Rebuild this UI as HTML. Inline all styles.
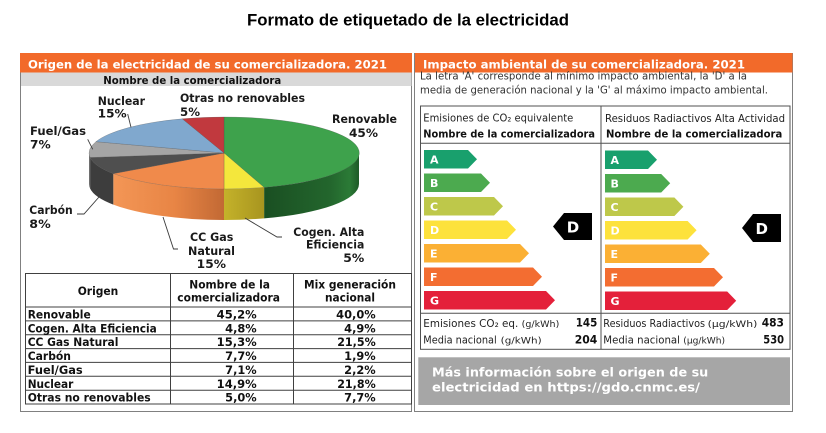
<!DOCTYPE html>
<html><head><meta charset="utf-8"><style>
html,body{margin:0;padding:0;background:#fff;}
svg{display:block;}
</style></head><body>
<svg width="826" height="433" viewBox="0 0 826 433" xmlns="http://www.w3.org/2000/svg">
<defs>
<linearGradient id="gS" gradientUnits="userSpaceOnUse" x1="264" y1="0" x2="359" y2="0">
<stop offset="0" stop-color="#1a4f22"/><stop offset="0.7" stop-color="#23662d"/><stop offset="0.9" stop-color="#2b7a36"/><stop offset="1" stop-color="#1e5a27"/></linearGradient>
<linearGradient id="yS" gradientUnits="userSpaceOnUse" x1="224" y1="0" x2="264" y2="0">
<stop offset="0" stop-color="#c4b22a"/><stop offset="1" stop-color="#a8951f"/></linearGradient>
<linearGradient id="oS" gradientUnits="userSpaceOnUse" x1="113" y1="0" x2="224" y2="0">
<stop offset="0" stop-color="#f39656"/><stop offset="0.55" stop-color="#e88545"/><stop offset="1" stop-color="#c26934"/></linearGradient>
</defs>
<rect width="826" height="433" fill="#fff"/>

<!-- Title -->
<text x="247" y="25.5" font-family="Liberation Sans, Arial, sans-serif" font-weight="bold" font-size="17" fill="#000" textLength="322" lengthAdjust="spacingAndGlyphs">Formato de etiquetado de la electricidad</text>

<!-- LEFT PANEL -->
<rect x="20.5" y="53.5" width="391" height="358" fill="#fff" stroke="#808080"/>
<rect x="20" y="53" width="392" height="19.5" fill="#f26a2a"/>
<rect x="21" y="72.5" width="390.5" height="13.5" fill="#d9d9d9"/>
<g font-family="DejaVu Sans, Verdana, sans-serif" font-weight="bold">
<text x="28" y="68.3" font-size="11.6" fill="#fff" textLength="359" lengthAdjust="spacingAndGlyphs">Origen de la electricidad de su comercializadora. 2021</text>
<text x="103.3" y="84" font-size="11" fill="#111" textLength="178" lengthAdjust="spacingAndGlyphs">Nombre de la comercializadora</text>
</g>

<!-- Pie sides -->
<path d="M359,153 A135,36 0 0 1 264.1,187.4 L264.1,218.4 A135,36 0 0 0 359,184 Z" fill="url(#gS)"/>
<path d="M264.1,187.4 A135,36 0 0 1 224,189 L224,220 A135,36 0 0 0 264.1,218.4 Z" fill="url(#yS)"/>
<path d="M224,189 A135,36 0 0 1 113.3,173.6 L113.3,204.6 A135,36 0 0 0 224,220 Z" fill="url(#oS)"/>
<path d="M113.3,173.6 A135,36 0 0 1 90.1,157.5 L90.1,188.5 A135,36 0 0 0 113.3,204.6 Z" fill="#3d3d3d"/>
<path d="M90.1,157.5 A135,36 0 0 1 89,153 L89,184 A135,36 0 0 0 90.1,188.5 Z" fill="#6e6e6e"/>
<!-- Pie tops -->
<g stroke="#4a4a4a" stroke-width="0.4" stroke-opacity="0.6">
<path d="M224,153 L224,117 A135,36 0 0 1 264.1,187.4 Z" fill="#3ea24c"/>
<path d="M224,153 L264.1,187.4 A135,36 0 0 1 224,189 Z" fill="#f4e73c"/>
<path d="M224,153 L224,189 A135,36 0 0 1 113.3,173.6 Z" fill="#f08a4b"/>
<path d="M224,153 L113.3,173.6 A135,36 0 0 1 90.1,157.5 Z" fill="#4f4f4f"/>
<path d="M224,153 L90.1,157.5 A135,36 0 0 1 95.9,141.7 Z" fill="#a5a5a5"/>
<path d="M224,153 L95.9,141.7 A135,36 0 0 1 182.3,118.8 Z" fill="#80a8ce"/>
<path d="M224,153 L182.3,118.8 A135,36 0 0 1 224,117 Z" fill="#c1393e"/>
</g>

<!-- Leader lines -->
<g stroke="#3a3a3a" stroke-width="0.9" fill="none">
<polyline points="127.7,114 131,127.3"/>
<polyline points="87.7,139.3 92.7,149.3"/>
<polyline points="77,214 84,214 99,197"/>
<polyline points="178,249 173.5,249 163,217"/>
<polyline points="245,218 277,237 282,237"/>
</g>

<!-- Pie labels -->
<g font-family="DejaVu Sans, Verdana, sans-serif" font-weight="bold" font-size="11.6" fill="#1a1a1a">
<text x="97.7" y="105" textLength="47.3" lengthAdjust="spacingAndGlyphs">Nuclear</text>
<text x="97.7" y="117.5" textLength="29" lengthAdjust="spacingAndGlyphs">15%</text>
<text x="180" y="102" textLength="125" lengthAdjust="spacingAndGlyphs">Otras no renovables</text>
<text x="180" y="116" textLength="20" lengthAdjust="spacingAndGlyphs">5%</text>
<text x="332" y="123" textLength="65" lengthAdjust="spacingAndGlyphs">Renovable</text>
<text x="349" y="137" textLength="29" lengthAdjust="spacingAndGlyphs">45%</text>
<text x="30" y="135" textLength="56" lengthAdjust="spacingAndGlyphs">Fuel/Gas</text>
<text x="30" y="148.5" textLength="20.7" lengthAdjust="spacingAndGlyphs">7%</text>
<text x="29.3" y="214" textLength="43.4" lengthAdjust="spacingAndGlyphs">Carbón</text>
<text x="29.3" y="228" textLength="21.4" lengthAdjust="spacingAndGlyphs">8%</text>
<text x="190" y="241" textLength="43.3" lengthAdjust="spacingAndGlyphs">CC Gas</text>
<text x="188" y="255" textLength="47" lengthAdjust="spacingAndGlyphs">Natural</text>
<text x="196.7" y="268" textLength="29.3" lengthAdjust="spacingAndGlyphs">15%</text>
<text x="293.3" y="236" textLength="71" lengthAdjust="spacingAndGlyphs">Cogen. Alta</text>
<text x="306" y="248.5" textLength="58.3" lengthAdjust="spacingAndGlyphs">Eficiencia</text>
<text x="343.3" y="262" textLength="21" lengthAdjust="spacingAndGlyphs">5%</text>
</g>

<!-- Left table -->
<g stroke="#404040" stroke-width="1" fill="none">
<rect x="25.5" y="273.5" width="386" height="130.5"/>
<line x1="170.5" y1="273.5" x2="170.5" y2="404"/>
<line x1="293.5" y1="273.5" x2="293.5" y2="404"/>
<line x1="25.5" y1="307" x2="411.5" y2="307"/>
<line x1="25.5" y1="320.9" x2="411.5" y2="320.9"/>
<line x1="25.5" y1="334.7" x2="411.5" y2="334.7"/>
<line x1="25.5" y1="348.6" x2="411.5" y2="348.6"/>
<line x1="25.5" y1="362.4" x2="411.5" y2="362.4"/>
<line x1="25.5" y1="376.3" x2="411.5" y2="376.3"/>
<line x1="25.5" y1="390.2" x2="411.5" y2="390.2"/>
</g>
<g font-family="DejaVu Sans, Verdana, sans-serif" font-weight="bold" font-size="11.2" fill="#111">
<text x="77.7" y="295" textLength="40.6" lengthAdjust="spacingAndGlyphs">Origen</text>
<text x="189.3" y="288.5" textLength="80.7" lengthAdjust="spacingAndGlyphs">Nombre de la</text>
<text x="177.3" y="301.5" textLength="102.7" lengthAdjust="spacingAndGlyphs">comercializadora</text>
<text x="304" y="288.5" textLength="92" lengthAdjust="spacingAndGlyphs">Mix generación</text>
<text x="325" y="301.5" textLength="50" lengthAdjust="spacingAndGlyphs">nacional</text>

<text x="27.7" y="318.5" textLength="63" lengthAdjust="spacingAndGlyphs">Renovable</text>
<text x="27.7" y="332.4" textLength="129" lengthAdjust="spacingAndGlyphs">Cogen. Alta Eficiencia</text>
<text x="27.7" y="346.2" textLength="90.7" lengthAdjust="spacingAndGlyphs">CC Gas Natural</text>
<text x="27.7" y="360.1" textLength="43.3" lengthAdjust="spacingAndGlyphs">Carbón</text>
<text x="27.7" y="373.9" textLength="55" lengthAdjust="spacingAndGlyphs">Fuel/Gas</text>
<text x="27.7" y="387.8" textLength="45.7" lengthAdjust="spacingAndGlyphs">Nuclear</text>
<text x="27.7" y="401.7" textLength="123" lengthAdjust="spacingAndGlyphs">Otras no renovables</text>

<text x="216.7" y="318.5" textLength="40" lengthAdjust="spacingAndGlyphs">45,2%</text>
<text x="225.2" y="332.4" textLength="31.5" lengthAdjust="spacingAndGlyphs">4,8%</text>
<text x="216.7" y="346.2" textLength="40" lengthAdjust="spacingAndGlyphs">15,3%</text>
<text x="225.2" y="360.1" textLength="31.5" lengthAdjust="spacingAndGlyphs">7,7%</text>
<text x="225.2" y="373.9" textLength="31.5" lengthAdjust="spacingAndGlyphs">7,1%</text>
<text x="216.7" y="387.8" textLength="40" lengthAdjust="spacingAndGlyphs">14,9%</text>
<text x="225.2" y="401.7" textLength="31.5" lengthAdjust="spacingAndGlyphs">5,0%</text>

<text x="336.2" y="318.5" textLength="39.5" lengthAdjust="spacingAndGlyphs">40,0%</text>
<text x="344.2" y="332.4" textLength="31.5" lengthAdjust="spacingAndGlyphs">4,9%</text>
<text x="337.2" y="346.2" textLength="38.5" lengthAdjust="spacingAndGlyphs">21,5%</text>
<text x="344.2" y="360.1" textLength="31.5" lengthAdjust="spacingAndGlyphs">1,9%</text>
<text x="344.2" y="373.9" textLength="31.5" lengthAdjust="spacingAndGlyphs">2,2%</text>
<text x="337.2" y="387.8" textLength="38.5" lengthAdjust="spacingAndGlyphs">21,8%</text>
<text x="344.2" y="401.7" textLength="31.5" lengthAdjust="spacingAndGlyphs">7,7%</text>
</g>

<!-- RIGHT PANEL -->
<rect x="414.5" y="53.5" width="378" height="358" fill="#fff" stroke="#808080"/>
<rect x="415" y="53" width="377.5" height="19.5" fill="#f26a2a"/>
<g font-family="DejaVu Sans, Verdana, sans-serif">
<text x="423" y="68.3" font-size="11.6" font-weight="bold" fill="#fff" textLength="322" lengthAdjust="spacingAndGlyphs">Impacto ambiental de su comercializadora. 2021</text>
<text x="420" y="79.5" font-size="10.5" fill="#333" textLength="327" lengthAdjust="spacingAndGlyphs">La letra 'A' corresponde al mínimo impacto ambiental, la 'D' a la</text>
<text x="420" y="93.5" font-size="10.5" fill="#333" textLength="348" lengthAdjust="spacingAndGlyphs">media de generación nacional y la 'G' al máximo impacto ambiental.</text>
</g>

<g stroke="#505050" stroke-width="1" fill="none">
<rect x="420.5" y="106" width="369.5" height="243.3"/>
<line x1="601" y1="106" x2="601" y2="349.3"/>
<line x1="420.5" y1="143.3" x2="790" y2="143.3"/>
<line x1="420.5" y1="313.3" x2="790" y2="313.3"/>
</g>

<g font-family="DejaVu Sans, Verdana, sans-serif" fill="#222">
<text x="423.3" y="121.7" font-size="10.5" textLength="150" lengthAdjust="spacingAndGlyphs">Emisiones de CO₂ equivalente</text>
<text x="423.3" y="137.3" font-size="10.6" font-weight="bold" fill="#111" textLength="171.7" lengthAdjust="spacingAndGlyphs">Nombre de la comercializadora</text>
<text x="605" y="122" font-size="10.5" textLength="180" lengthAdjust="spacingAndGlyphs">Residuos Radiactivos Alta Actividad</text>
<text x="606" y="137.5" font-size="10.6" font-weight="bold" fill="#111" textLength="176.3" lengthAdjust="spacingAndGlyphs">Nombre de la comercializadora</text>

<text x="423.3" y="327" font-size="10.5" textLength="95" lengthAdjust="spacingAndGlyphs">Emisiones CO₂ eq.</text>
<text x="521.7" y="327" font-size="9" textLength="37.6" lengthAdjust="spacingAndGlyphs">(g/kWh)</text>
<text x="575.7" y="326.7" font-size="11.5" font-weight="bold" fill="#111" textLength="21.6" lengthAdjust="spacingAndGlyphs">145</text>
<text x="423.3" y="343.3" font-size="10.5" textLength="73.4" lengthAdjust="spacingAndGlyphs">Media nacional</text>
<text x="500.7" y="343.3" font-size="9" textLength="41" lengthAdjust="spacingAndGlyphs">(g/kWh)</text>
<text x="574.7" y="343.3" font-size="11.5" font-weight="bold" fill="#111" textLength="22.6" lengthAdjust="spacingAndGlyphs">204</text>

<text x="603.3" y="327" font-size="10.5" textLength="101.7" lengthAdjust="spacingAndGlyphs">Residuos Radiactivos</text>
<text x="707.7" y="327" font-size="9" textLength="49.6" lengthAdjust="spacingAndGlyphs">(μg/kWh)</text>
<text x="761.7" y="326.7" font-size="11.5" font-weight="bold" fill="#111" textLength="22.3" lengthAdjust="spacingAndGlyphs">483</text>
<text x="603.3" y="343.3" font-size="10.5" textLength="76.7" lengthAdjust="spacingAndGlyphs">Media nacional</text>
<text x="683.3" y="343.3" font-size="9" textLength="41.7" lengthAdjust="spacingAndGlyphs">(μg/kWh)</text>
<text x="763.3" y="343.3" font-size="11.5" font-weight="bold" fill="#111" textLength="20.7" lengthAdjust="spacingAndGlyphs">530</text>
</g>

<!-- Left energy bars -->
<g>
<polygon points="424,150 468,150 477,159.25 468,168.5 424,168.5" fill="#19a06d"/>
<polygon points="424,173.5 481,173.5 490,182.75 481,192 424,192" fill="#4caa4f"/>
<polygon points="424,197 494,197 503,206.25 494,215.5 424,215.5" fill="#bec84a"/>
<polygon points="424,220.5 507,220.5 516,229.75 507,239 424,239" fill="#fde23c"/>
<polygon points="424,244 520,244 529,253.25 520,262.5 424,262.5" fill="#fbb034"/>
<polygon points="424,267.5 533,267.5 542,276.75 533,286 424,286" fill="#f36d31"/>
<polygon points="424,291 546,291 555,300.25 546,309.5 424,309.5" fill="#e4203a"/>
<polygon points="553,226.5 564,213 592,213 592,240 564,240" fill="#000"/>
</g>
<!-- Right energy bars -->
<g>
<polygon points="605,150.5 648,150.5 657,159.75 648,169 605,169" fill="#19a06d"/>
<polygon points="605,174 661.2,174 670.2,183.25 661.2,192.5 605,192.5" fill="#4caa4f"/>
<polygon points="605,197.5 674.4,197.5 683.4,206.75 674.4,216 605,216" fill="#bec84a"/>
<polygon points="605,221 687.6,221 696.6,230.25 687.6,239.5 605,239.5" fill="#fde23c"/>
<polygon points="605,244.5 700.8,244.5 709.8,253.75 700.8,263 605,263" fill="#fbb034"/>
<polygon points="605,268 714,268 723,277.25 714,286.5 605,286.5" fill="#f36d31"/>
<polygon points="605,291.5 727.2,291.5 736.2,300.75 727.2,310 605,310" fill="#e4203a"/>
<polygon points="742,228 753,214 781,214 781,242 753,242" fill="#000"/>
</g>
<g font-family="DejaVu Sans, Verdana, sans-serif" font-weight="bold" font-size="11" fill="#fff">
<text x="430" y="163.3">A</text>
<text x="430" y="186.8">B</text>
<text x="430" y="210.3">C</text>
<text x="430" y="233.8">D</text>
<text x="430" y="257.3">E</text>
<text x="430" y="280.8">F</text>
<text x="430" y="304.3">G</text>
<text x="610.5" y="163.8">A</text>
<text x="610.5" y="187.3">B</text>
<text x="610.5" y="210.8">C</text>
<text x="610.5" y="234.3">D</text>
<text x="610.5" y="257.8">E</text>
<text x="610.5" y="281.3">F</text>
<text x="610.5" y="304.8">G</text>
</g>
<g font-family="DejaVu Sans, Verdana, sans-serif" font-size="15" fill="#fff" font-weight="bold">
<text x="566.8" y="232.5">D</text>
<text x="755.5" y="234">D</text>
</g>

<!-- Gray info box -->
<rect x="418.3" y="357.3" width="371.7" height="47.7" fill="#a6a6a6"/>
<g font-family="DejaVu Sans, Verdana, sans-serif" font-weight="bold" font-size="12.5" fill="#fff">
<text x="432" y="376.7" textLength="276.3" lengthAdjust="spacingAndGlyphs">Más información sobre el origen de su</text>
<text x="432" y="391.7" textLength="268" lengthAdjust="spacingAndGlyphs">electricidad en https://gdo.cnmc.es/</text>
</g>
</svg>
</body></html>
